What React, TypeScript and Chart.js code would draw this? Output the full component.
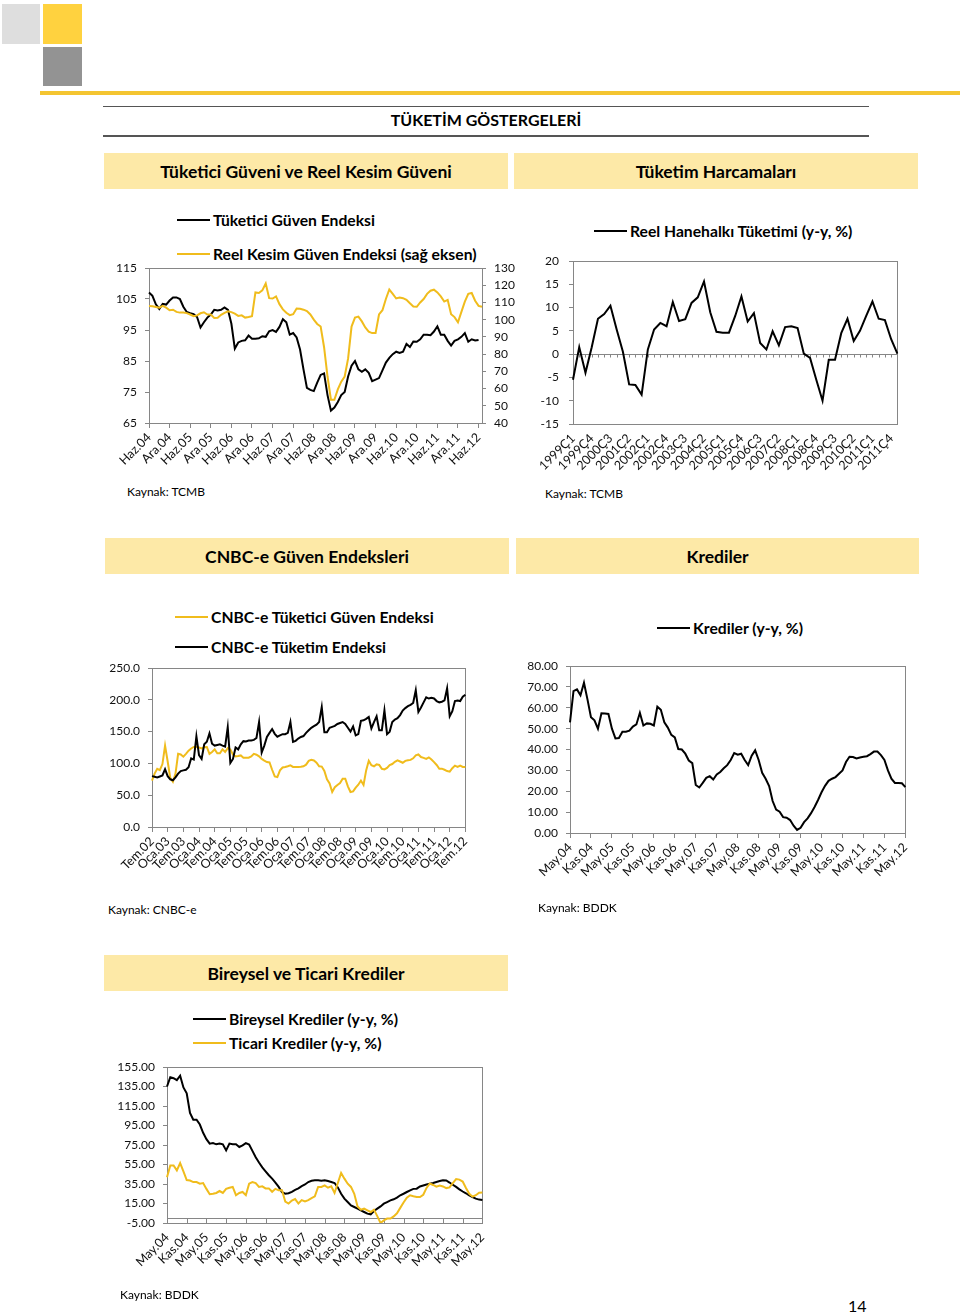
import React, { useEffect, useRef } from 'react';
import { Chart, registerables } from 'chart.js';
Chart.register(...registerables);

const FONT = 'Lato, "Open Sans", sans-serif';
Chart.defaults.font.family = FONT;
const GRAY = '#868686';
const YELLOW = '#F0BC1C';
const BLACK = '#000000';

// ---------- Chart 1: Tüketici Güveni ve Reel Kesim Güveni (monthly, Haz.04 - Tem.12)
const c1Ticks = ['Haz.04','Ara.04','Haz.05','Ara.05','Haz.06','Ara.06','Haz.07','Ara.07','Haz.08','Ara.08','Haz.09','Ara.09','Haz.10','Ara.10','Haz.11','Ara.11','Haz.12'];
const c1Tuketici = [107.1,106.0,103.3,101.8,103.4,103.2,104.5,105.5,105.5,105.0,
102.5,100.8,100.4,100.1,99.2,95.8,97.5,99.0,100.0,101.5,
101.3,101.5,102.3,101.5,97.0,89.0,91.0,91.5,91.7,93.2,
92.2,92.2,92.3,93.0,92.8,94.6,95.0,94.4,96.0,98.5,
97.5,93.5,94.0,92.6,88.7,82.3,76.3,75.7,75.3,78.0,
80.5,81.0,74.0,69.0,70.0,71.8,74.0,75.0,80.0,83.5,
85.0,82.3,81.5,82.3,81.2,78.5,79.0,79.5,82.0,84.5,
86.0,87.2,88.0,87.6,88.0,90.5,89.5,91.3,91.2,92.0,
93.5,93.5,93.3,94.5,96.2,93.5,93.5,91.5,90.0,91.5,
92.0,92.8,94.0,91.2,92.0,91.6,91.8,null];
const c1ReelKesim = [108,107.8,107.4,107,108,107,105.5,105.8,104.5,104.1,
104.1,103.8,103,102,102.5,103.7,104.3,103,103,101,
101.1,102.8,104,104.9,104.4,103.5,102.2,102.5,101.2,101.5,
102,115.8,115.5,117,121,112.5,112.3,113.5,109,106,
104,102.6,103.2,106.5,106.3,105.8,105,103,100,97.5,
96,84,67,53.5,53.5,59.5,64,67,77.5,96,
101.2,101.8,99,95.5,93,92.2,92.2,103,105.5,112,
117.5,115,112.3,112.8,112.5,111.5,109.5,107.6,107.5,110,
112,115,116.8,117.4,115.8,113.5,110.5,111.5,103.2,101.5,
98.5,104.5,110.5,115,115.5,111,108,107.5];

// ---------- Chart 2: Reel Hanehalkı Tüketimi (quarterly, 1999Ç1 - 2012Ç1)
const c2Ticks = ['1999Ç1','1999Ç4','2000Ç3','2001Ç2','2002Ç1','2002Ç4','2003Ç3','2004Ç2','2005Ç1','2005Ç4','2006Ç3','2007Ç2','2008Ç1','2008Ç4','2009Ç3','2010Ç2','2011Ç1','2011Ç4'];
const c2Tuketim = [-5.5,1.5,-4,1.5,7.6,8.6,10.4,5.3,0.5,-6.5,
-6.6,-8.7,1,5.3,6.7,6,11.2,7.1,7.5,11,
12.2,15.6,9,4.8,4.6,4.6,8.2,12.4,7,8.8,
2.4,1,4.9,1.9,5.8,6,5.6,0.1,-0.8,-5.5,
-10,-1.2,-1.2,4.5,7.6,2.8,5,8.2,11.3,7.6,
7.3,3.2,0.1];

// ---------- Chart 3: CNBC-e (monthly, Tem.02 - Tem.12)
const c3Ticks = ['Tem.02','Oca.03','Tem.03','Oca.04','Tem.04','Oca.05','Tem.05','Oca.06','Tem.06','Oca.07','Tem.07','Oca.08','Tem.08','Oca.09','Tem.09','Oca.10','Tem.10','Oca.11','Tem.11','Oca.12','Tem.12'];
const c3Tuketim = [80,79,78,79.5,81,91,80,75,73.5,78,
84,88,89,90,94,108,106,142.5,113,107,
130,134,147,131,128,129,130,128,126.5,157,
100.6,107,125,122,130,135,134.5,136,136,137,
140,165,117,128,141.5,148,154,146.5,142,144,
146,146,148,165,134,135.5,139,141.5,143,148,
152,156,158.5,161,165,188.7,149,149,156,157.5,
159,162,163.5,165,162,156,150,158,144,146,
167,167.7,170,173,155,165,174,152,152,183.4,
146,150,165,169,171,176,183,187,190,192,
195,215,181,188,196,204,202,203,202,198,
196,197,199,218,174,182,198,199,198,205,
208];
const c3Guven = [73,84,91.5,89.5,99,128,103,77,71,84,
115,114,110.5,115,120,123.5,125.8,125.8,125,123.5,
125.5,125.8,115,118,122,116,116,122,118,124,
122,114,111,111.5,112.5,109,109,109,111,115,
113.7,111,107,104.5,102.2,101.5,90,79.5,78.6,89,
93.5,94.3,95.5,97,94.5,94.3,94.3,94.8,95.5,98,
104,105.5,104.5,101,95.5,95,88,75,68.5,55,
62.5,66,69,76,76,64,55,56,62,66.5,
73,66,89,104,97,95.5,98.5,97.5,91.5,90.5,
93,97.3,99,102.5,104.8,103,101,104,104.8,105.5,
108,112.7,114,110,108.7,107,109.5,106,102,97.5,
91.5,91.7,90,88,87,92.5,96.5,94.5,96.5,94.5,
94.3];

// ---------- Chart 4: Krediler (monthly, May.04 - May.12)
const c4Ticks = ['May.04','Kas.04','May.05','Kas.05','May.06','Kas.06','May.07','Kas.07','May.08','Kas.08','May.09','Kas.09','May.10','Kas.10','May.11','Kas.11','May.12'];
const c4Krediler = [53,68,68.8,66,72,64,55.5,54,50,57.3,
57.2,57,50,45.3,45.5,48.5,48.5,49,51,52,
57.6,51.5,52.5,52.3,51.5,60.5,59,53,50.5,47,
45.8,40.2,40,38,34.7,33.5,23,21.8,24,26.4,
27.2,25.6,28,29.2,31,32.5,35,38.3,37.5,38,
35,32.5,37,39.6,35,28.8,26,22.5,15.3,11.2,
10.2,7.6,7.3,6.2,3.5,1.5,2.5,5.2,7,9.5,
12.5,15.8,19.5,22.6,25,26,26.8,28.4,30,34,
36.5,36.4,35.7,36.2,36.5,36.8,37.8,39,39,37.3,
35,30,26,24,24,23.8,22];

// ---------- Chart 5: Bireysel ve Ticari Krediler (monthly, May.04 - May.12)
const c5Ticks = ['May.04','Kas.04','May.05','Kas.05','May.06','Kas.06','May.07','Kas.07','May.08','Kas.08','May.09','Kas.09','May.10','Kas.10','May.11','Kas.11','May.12'];
const c5Bireysel = [135,144.5,143.5,141.5,146,134,128,108,101,101,
96,87.5,81,76.4,77,75.7,76.4,75.7,69.5,76.4,
75.7,75.7,73,74.7,77,75.5,69,62.5,57,52,
48,44,40.5,36.5,32,26.5,25,25.5,27,29,
30.5,32.8,34.5,37,38.3,38.8,38.8,38.4,38.8,38,
37,36,31.5,25,20,16.5,13,11.4,9.7,8,
6.3,4.6,3.9,7.3,9.7,12,14.8,16.5,18.2,19.3,
21,23.4,25,26.8,28.5,30,30.2,32.5,33.5,34.5,
35.2,36,37,38,38.8,38.6,36.5,34.2,32,29.5,
27.3,25.5,23.2,21.5,20,19,18.5];
const c5Ticari = [42,54,54,49,56.5,48,39,38.5,37,37,
35.3,36,30,24.5,25,25.8,27.8,25.8,30,31.2,
32,23.5,25.8,26.8,23.5,35.3,37,36,32,32.6,
30.5,30.5,27,30,28.5,28.5,17,15,18,19.5,
15,18.5,17.2,18.5,20.6,22.4,32,32,33.6,31.2,
32.6,25.8,36,46.3,40.5,35.3,32,25,12,8.7,
9.7,8,6.3,8.7,2,-5,-2.3,-0.5,-0.5,1.8,
5,10.5,16,21,23.4,22.4,21.7,21.7,24,31,
35.5,34,32.3,33.5,32.5,30.8,31.5,36,40,39.5,
37.5,31,25,22,23.5,26,26.2];

function buildLabels(ticks: string[], step: number, n: number): string[] {
  return Array.from({ length: n }, (_, i) => (i % step === 0 && i / step < ticks.length ? ticks[i / step] : ''));
}

const framePlugin: any = {
  id: 'excelFrame',
  beforeDatasetsDraw(chart: any, _a: any, opts: any) {
    const { ctx, chartArea: a } = chart;
    ctx.save();
    ctx.strokeStyle = GRAY;
    ctx.lineWidth = 1;
    const l = Math.round(a.left) + 0.5, t = Math.round(a.top) + 0.5;
    const r = Math.round(a.right) + 0.5, b = Math.round(a.bottom) + 0.5;
    ctx.strokeRect(l, t, r - l, b - t);
    if (opts && opts.zeroEvery) {
      const y = Math.round(chart.scales.y.getPixelForValue(0)) + 0.5;
      ctx.beginPath();
      ctx.moveTo(l, y);
      ctx.lineTo(r, y);
      const xs = chart.scales.x;
      const n = chart.data.labels.length;
      for (let i = 0; i < n; i += opts.zeroEvery) {
        const x = Math.round(xs.getPixelForValue(i)) + 0.5;
        ctx.moveTo(x, y);
        ctx.lineTo(x, y + opts.zeroLen);
      }
      ctx.stroke();
    }
    ctx.restore();
  },
};

type Box = { cx: number; cy: number; cw: number; ch: number; pl: number; pt: number; pr: number; pb: number };

function yAxis(pos: 'left' | 'right', min: number, max: number, step: number, fmt: (v: number) => string, width: number, pad: number) {
  return {
    type: 'linear',
    position: pos,
    min, max,
    ticks: { stepSize: step, autoSkip: false, callback: (v: any) => fmt(Number(v)), color: '#111', font: { size: 12 }, padding: pad },
    grid: { drawOnChartArea: false, drawTicks: true, tickLength: 4, color: GRAY },
    border: { display: false },
    afterFit: (s: any) => { s.width = width; },
  };
}

function xAxis(labelsStep: number, tickMarks: boolean, height: number) {
  return {
    type: 'category',
    offset: false,
    grid: {
      display: tickMarks,
      drawOnChartArea: false,
      drawTicks: true,
      tickLength: 5,
      color: (c: any) => (c.index % labelsStep === 0 ? GRAY : 'rgba(0,0,0,0)'),
    },
    border: { display: false },
    ticks: { autoSkip: false, maxRotation: 45, minRotation: 45, padding: 2, color: '#111', font: { size: 12.5 } },
    afterFit: (s: any) => { s.height = height; },
  };
}

function lineDs(data: (number | null)[], color: string, yAxisID = 'y') {
  return { data, borderColor: color, backgroundColor: color, borderWidth: 2, pointRadius: 0, tension: 0, fill: false, yAxisID };
}

function ChartCanvas({ box, build }: { box: Box; build: () => any }) {
  const ref = useRef<HTMLCanvasElement | null>(null);
  useEffect(() => {
    if (!ref.current) return;
    const c = new Chart(ref.current, build());
    return () => c.destroy();
  }, []);
  return (
    <canvas
      ref={ref}
      width={box.cw}
      height={box.ch}
      style={{ position: 'absolute', left: box.cx, top: box.cy, width: box.cw, height: box.ch }}
    />
  );
}

function baseOptions(box: Box, rightPad: number) {
  return {
    responsive: false,
    animation: false,
    devicePixelRatio: 1,
    layout: { padding: { left: 0, top: box.pt - box.cy, right: rightPad, bottom: 0 } },
    plugins: { legend: { display: false }, tooltip: { enabled: false } },
  };
}

// chart boxes (canvas rect + plot rect), page coordinates
const b1: Box = { cx: 100, cy: 246, cw: 435, ch: 234, pl: 149, pt: 268, pr: 482, pb: 423 };
const b2: Box = { cx: 535, cy: 239, cw: 375, ch: 246, pl: 573, pt: 261, pr: 898, pb: 424 };
const b3: Box = { cx: 100, cy: 646, cw: 378, ch: 254, pl: 152, pt: 668, pr: 468, pb: 827 };
const b4: Box = { cx: 510, cy: 644, cw: 408, ch: 256, pl: 570, pt: 666, pr: 907, pb: 833 };
const b5: Box = { cx: 100, cy: 1045, cw: 395, ch: 245, pl: 167, pt: 1067, pr: 485, pb: 1223 };

function cfg1() {
  const labels = buildLabels(c1Ticks, 6, c1Tuketici.length);
  const o: any = baseOptions(b1, 0);
  o.scales = {
    x: xAxis(6, true, b1.cy + b1.ch - b1.pb),
    y: yAxis('left', 65, 115, 10, (v) => String(v), b1.pl - b1.cx, 8),
    y2: yAxis('right', 40, 130, 10, (v) => String(v), b1.cx + b1.cw - b1.pr, 8),
  };
  return {
    type: 'line',
    data: { labels, datasets: [lineDs(c1ReelKesim, YELLOW, 'y2'), lineDs(c1Tuketici, BLACK, 'y')] },
    options: o,
    plugins: [framePlugin],
  };
}

function cfg2() {
  const labels = buildLabels(c2Ticks, 3, c2Tuketim.length);
  const o: any = baseOptions(b2, b2.cx + b2.cw - b2.pr);
  o.scales = {
    x: xAxis(3, false, b2.cy + b2.ch - b2.pb),
    y: yAxis('left', -15, 20, 5, (v) => String(v), b2.pl - b2.cx, 10),
  };
  o.plugins.excelFrame = { zeroEvery: 1, zeroLen: 3 };
  return { type: 'line', data: { labels, datasets: [lineDs(c2Tuketim, BLACK)] }, options: o, plugins: [framePlugin] };
}

function cfg3() {
  const labels = buildLabels(c3Ticks, 6, c3Tuketim.length);
  const o: any = baseOptions(b3, b3.cx + b3.cw - b3.pr);
  o.scales = {
    x: xAxis(6, true, b3.cy + b3.ch - b3.pb),
    y: yAxis('left', 0, 250, 50, (v) => v.toFixed(1), b3.pl - b3.cx, 8),
  };
  return {
    type: 'line',
    data: { labels, datasets: [lineDs(c3Tuketim, BLACK), lineDs(c3Guven, YELLOW)] },
    options: o,
    plugins: [framePlugin],
  };
}

function cfg4() {
  const labels = buildLabels(c4Ticks, 6, c4Krediler.length);
  const o: any = baseOptions(b4, b4.cx + b4.cw - b4.pr);
  o.scales = {
    x: xAxis(6, true, b4.cy + b4.ch - b4.pb),
    y: yAxis('left', 0, 80, 10, (v) => v.toFixed(2), b4.pl - b4.cx, 8),
  };
  return { type: 'line', data: { labels, datasets: [lineDs(c4Krediler, BLACK)] }, options: o, plugins: [framePlugin] };
}

function cfg5() {
  const labels = buildLabels(c5Ticks, 6, c5Bireysel.length);
  const o: any = baseOptions(b5, b5.cx + b5.cw - b5.pr);
  o.scales = {
    x: xAxis(6, false, b5.cy + b5.ch - b5.pb),
    y: yAxis('left', -5, 155, 20, (v) => v.toFixed(2), b5.pl - b5.cx, 8),
  };
  o.plugins.excelFrame = { zeroEvery: 6, zeroLen: 5 };
  return {
    type: 'line',
    data: { labels, datasets: [lineDs(c5Ticari, YELLOW), lineDs(c5Bireysel, BLACK)] },
    options: o,
    plugins: [framePlugin],
  };
}

const abs = (l: number, t: number, w: number, h: number, bg: string): React.CSSProperties => ({
  position: 'absolute', left: l, top: t, width: w, height: h, background: bg,
});

function Txt({ x, y, children, size = 12, bold = false, center = false, w = 0 }: any) {
  const lh = Math.round(size + 6);
  const st: React.CSSProperties = {
    position: 'absolute', top: y - lh / 2, lineHeight: lh + 'px', fontSize: size,
    fontWeight: bold ? 700 : 400, whiteSpace: 'nowrap', color: '#000', fontFamily: FONT,
  };
  if (center) { st.left = x - w / 2; st.width = w; st.textAlign = 'center'; } else { st.left = x; }
  return <div style={st}>{children}</div>;
}

function SectionHeader({ x, y, w, text }: any) {
  return (
    <div style={{ ...abs(x, y, w, 36, '#FDE9A7'), display: 'flex', alignItems: 'center', justifyContent: 'center', fontWeight: 700, fontSize: 17.5, fontFamily: FONT, color: '#000' }}>
      {text}
    </div>
  );
}

function LegendItem({ x, y, color, text }: any) {
  return (
    <>
      <div style={abs(x, y - 1, 33, 2, color)} />
      <Txt x={x + 36} y={y} size={15.7} bold>{text}</Txt>
    </>
  );
}

export default function App() {
  return (
    <div style={{ position: 'absolute', left: 0, top: 0, width: 960, height: 1314, background: '#fff', fontFamily: FONT, overflow: 'hidden' }}>
      {/* page header */}
      <div style={abs(2, 4, 38, 40, '#DEDEDE')} />
      <div style={abs(43, 4, 39, 40, '#FFD23F')} />
      <div style={abs(43, 47, 39, 39, '#939393')} />
      <div style={abs(40, 91, 920, 4, '#F4C531')} />
      <div style={abs(103, 106, 766, 1, '#555')} />
      <Txt x={486} y={120} size={16} bold center w={400}>TÜKETİM GÖSTERGELERİ</Txt>
      <div style={abs(103, 135, 766, 1.5, '#555')} />

      {/* section 1 */}
      <SectionHeader x={104} y={153} w={404} text="Tüketici Güveni ve Reel Kesim Güveni" />
      <SectionHeader x={514} y={153} w={404} text="Tüketim Harcamaları" />
      <LegendItem x={177} y={220} color={BLACK} text="Tüketici Güven Endeksi" />
      <LegendItem x={177} y={254} color={YELLOW} text="Reel Kesim Güven Endeksi (sağ eksen)" />
      <ChartCanvas box={b1} build={cfg1} />
      <LegendItem x={594} y={231} color={BLACK} text="Reel Hanehalkı Tüketimi (y-y, %)" />
      <ChartCanvas box={b2} build={cfg2} />
      <Txt x={127} y={492} size={12}>Kaynak: TCMB</Txt>
      <Txt x={545} y={494} size={12}>Kaynak: TCMB</Txt>

      {/* section 2 */}
      <SectionHeader x={105} y={538} w={404} text="CNBC-e Güven Endeksleri" />
      <SectionHeader x={516} y={538} w={403} text="Krediler" />
      <LegendItem x={175} y={617} color={YELLOW} text="CNBC-e Tüketici Güven Endeksi" />
      <LegendItem x={175} y={647} color={BLACK} text="CNBC-e Tüketim Endeksi" />
      <ChartCanvas box={b3} build={cfg3} />
      <LegendItem x={657} y={628} color={BLACK} text="Krediler (y-y, %)" />
      <ChartCanvas box={b4} build={cfg4} />
      <Txt x={108} y={910} size={12}>Kaynak: CNBC-e</Txt>
      <Txt x={538} y={908} size={12}>Kaynak: BDDK</Txt>

      {/* section 3 */}
      <SectionHeader x={104} y={955} w={404} text="Bireysel ve Ticari Krediler" />
      <LegendItem x={193} y={1019} color={BLACK} text="Bireysel Krediler (y-y, %)" />
      <LegendItem x={193} y={1043} color={YELLOW} text="Ticari Krediler (y-y, %)" />
      <ChartCanvas box={b5} build={cfg5} />
      <Txt x={120} y={1295} size={12}>Kaynak: BDDK</Txt>
      <Txt x={848} y={1306} size={16}>14</Txt>
    </div>
  );
}
